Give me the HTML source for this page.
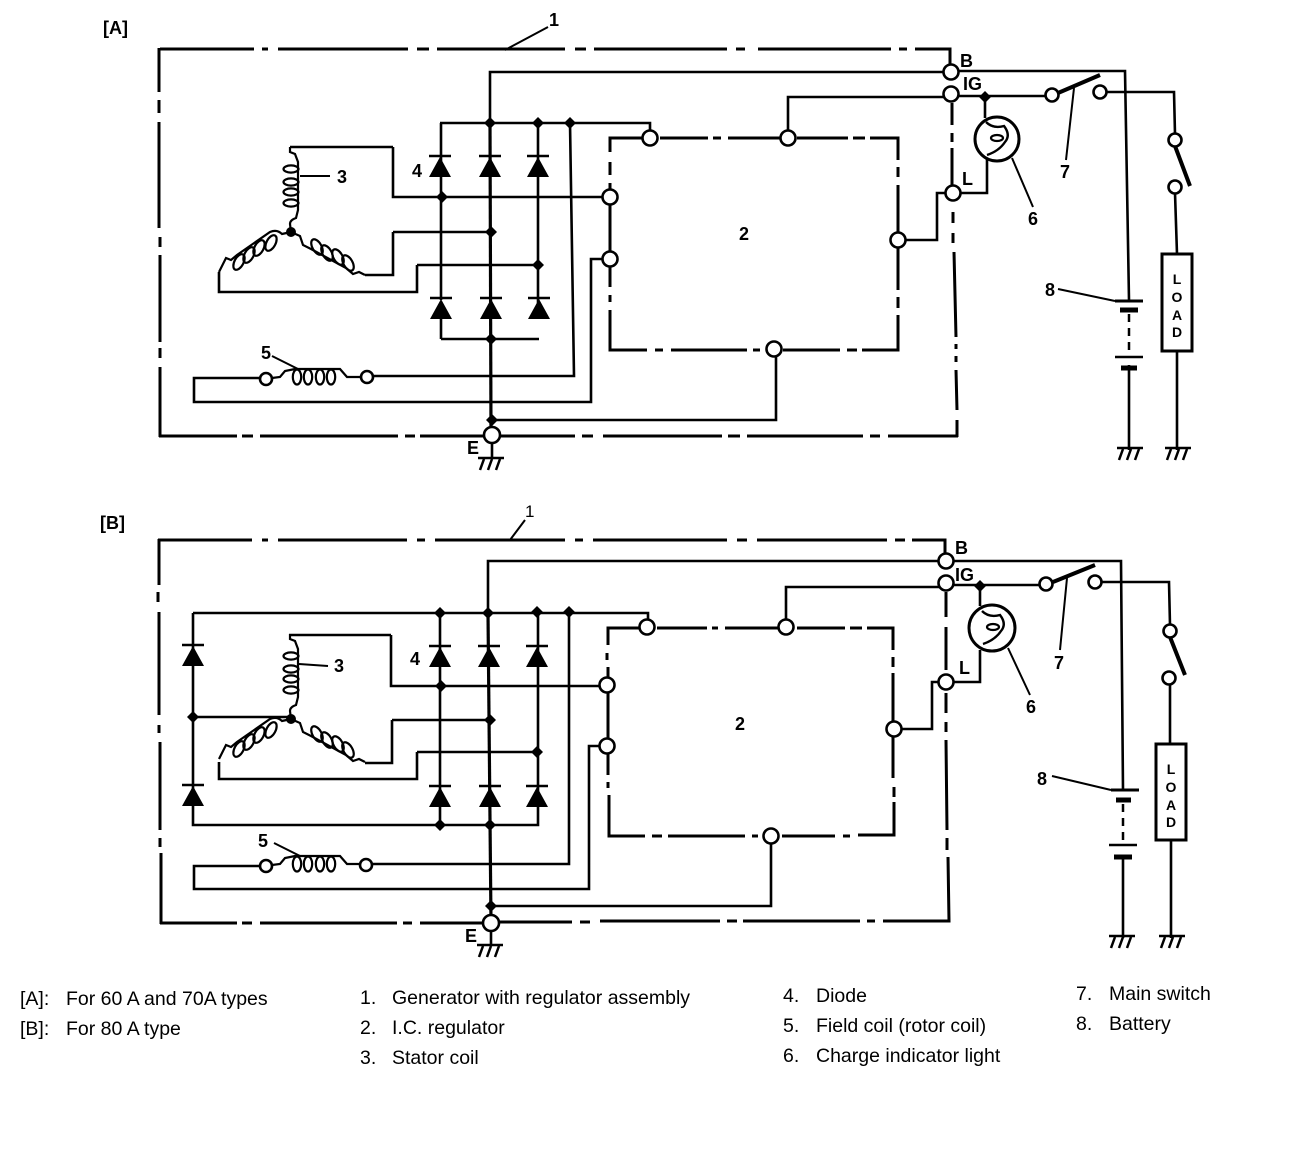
<!DOCTYPE html>
<html><head><meta charset="utf-8"><style>
html,body{margin:0;padding:0;background:#fff}
svg{display:block}
text{font-family:"Liberation Sans",sans-serif;fill:#000}
.b{font-weight:bold;font-size:18px}
.l{font-size:19.5px}
.w{fill:none;stroke:#000;stroke-width:2.6;stroke-linejoin:miter}
.h{fill:none;stroke:#000;stroke-width:3.2}
.t{fill:none;stroke:#000;stroke-width:2}
.d{fill:none;stroke:#000;stroke-width:3}
.c{fill:#fff;stroke:#000;stroke-width:2.6}
</style></head><body>
<svg width="1312" height="1150" viewBox="0 0 1312 1150" xmlns="http://www.w3.org/2000/svg">
<defs>
<g id="di"><path d="M-11,22 L0,2 L11,22 Z" fill="#000"/><path d="M-11,1 H11" stroke="#000" stroke-width="2.5"/></g>
<path id="dot" d="M0,-6 L6,0 L0,6 L-6,0 Z" fill="#000"/>
<g id="gnd" fill="none" stroke="#000" stroke-width="2.5"><path d="M-13,0 H13"/><path d="M-7,1 L-11,12 M1,1 L-3,12 M9,1 L5,12"/></g>
<g id="stator" fill="none" stroke="#000" stroke-width="2.2">
<path d="M0,0 L-1,-8 Q-1,-12 5,-14 L7,-22 V-70 L4,-78 L-1,-80 V-85"/>
<ellipse cx="0" cy="-63" rx="7.5" ry="3.6"/><ellipse cx="0" cy="-50" rx="7.5" ry="3.6"/><ellipse cx="0" cy="-40" rx="7.5" ry="3.6"/><ellipse cx="0" cy="-29" rx="7.5" ry="3.6"/>
<path d="M0,0 L-9,2 Q-14,-3 -21,0 L-54,23 L-60,28 L-65,26 L-70,36 L-72,40"/>
<ellipse cx="-20" cy="11" rx="4.5" ry="8.5" transform="rotate(28 -20 11)"/><ellipse cx="-32" cy="16" rx="4.5" ry="8.5" transform="rotate(28 -32 16)"/><ellipse cx="-42" cy="23" rx="4.5" ry="8.5" transform="rotate(28 -42 23)"/><ellipse cx="-52" cy="30" rx="4.5" ry="8.5" transform="rotate(28 -52 30)"/>
<path d="M0,0 L9,4 L12,13 L20,17 L55,36 L62,42 L68,40 L74,43"/>
<ellipse cx="26" cy="15" rx="4.5" ry="8.5" transform="rotate(-30 26 15)"/><ellipse cx="36" cy="21" rx="4.5" ry="8.5" transform="rotate(-30 36 21)"/><ellipse cx="47" cy="25" rx="4.5" ry="8.5" transform="rotate(-30 47 25)"/><ellipse cx="57" cy="31" rx="4.5" ry="8.5" transform="rotate(-30 57 31)"/>
</g>
<g id="field" fill="none" stroke="#000" stroke-width="2.2">
<path d="M272,378 L280,377 L285,371 L295,369 H340 L347,377 H361"/>
<ellipse cx="297" cy="377" rx="4.2" ry="7.5"/><ellipse cx="308" cy="377" rx="4.2" ry="7.5"/><ellipse cx="320" cy="377" rx="4.2" ry="7.5"/><ellipse cx="331" cy="377" rx="4.2" ry="7.5"/>
</g>
<g id="lamp" fill="none" stroke="#000"><path d="M-11,-17 Q-4,-10 7,-13 Q14,-4 8,3 Q2,12 -10,16" stroke-width="2.4"/><ellipse cx="0" cy="-1" rx="6" ry="3" stroke-width="2.2"/></g>
</defs>

<text x="103" y="34" class="b">[A]</text>
<!-- outer box A -->
<path class="d" d="M160,49 H254 M262,49 H268 M278,49 H408 M417,49 H429 M437,49 H565 M575,49 H586 M594,49 H727 M736,49 H745 M758,49 H891 M899,49 H907 M915,49 H950 V72"/>
<path class="d" d="M159,48 V92 M159,100 V113 M159,122 V228 M160,237 V247 M160,255 V342 M160,348 V358 M160,367 V437"/>
<path class="d" d="M159,436 H237 M242,436 H253 M260,436 H398 M405,436 H415 M420,436 H483 M500,436 H575 M582,436 H593 M603,436 H722 M728,436 H740 M747,436 H863 M870,436 H880 M888,436 H958"/>
<path class="d" d="M952,103 V125 M952,133 V142 M952,148 V193 M953,212 V223 M953,233 V243 M954,252 L956,337 M956,344 V349 M956,356 V362 M956,370 L957,410 M957,420 V437"/>
<!-- regulator A -->
<path class="d" d="M610,152 V138 H650 M660,138 H708 M713,138 H721 M728,138 H788 M797,138 H848 M853,138 H865 M870,138 H898 V160 M898,167 V177 M898,185 V240 V290 M898,297 V308 M898,315 V350 H862 M857,350 H847 M840,350 H783 M760,350 H753 M747,350 H671 M663,350 H655 M647,350 H610 V310 M610,302 V295 M610,287 V259 V197 V183 M610,175 V162"/>
<path class="w" d="M951,72 H490 V123 M440,123 H650 V132 M441,123 V300 M538,123 V319 M441,339 H539 M441,319 V339"/>
<path class="h" d="M490,123 L491,436"/>
<path class="w" d="M570,123 L574,376 H367 M266,378 H194 V402 H591 V259 H610 M393,147 H290 M393,147 V197 H610 M393,232 H491 M393,232 V275 H365 M417,265 H538 M417,265 V292 H219 V272"/>
<path class="w" d="M492,420 H776 V350"/>
<path class="w" d="M788,130 V97 H951 M905,240 H937 V193 H953 H987 V155 M985,118 V97 M951,71 H1125 L1129,300 M951,96 H1045 M1107,92 H1174 L1175,134"/>
<path class="w" d="M1175,193 L1177,254 M1177,351 V450 M1129,365 V450"/>
<path stroke="#000" stroke-width="4" d="M1058,93 L1100,75 M1175,146 L1190,186" fill="none"/>
<use href="#di" x="440" y="155"/><use href="#di" x="490" y="155"/><use href="#di" x="538" y="155"/>
<use href="#di" x="441" y="297"/><use href="#di" x="491" y="297"/><use href="#di" x="539" y="297"/>
<use href="#stator" x="291" y="232"/>
<use href="#field"/>
<use href="#dot" x="490" y="123"/><use href="#dot" x="538" y="123"/><use href="#dot" x="570" y="123"/><use href="#dot" x="442" y="197"/><use href="#dot" x="491" y="232"/><use href="#dot" x="538" y="265"/><use href="#dot" x="491" y="339"/><use href="#dot" x="492" y="420"/><use href="#dot" x="985" y="97"/>
<circle cx="291" cy="232" r="5"/>
<g class="c">
<circle cx="951" cy="72" r="7.5"/><circle cx="951" cy="94" r="7.5"/><circle cx="953" cy="193" r="7.5"/>
<circle cx="650" cy="138" r="7.5"/><circle cx="788" cy="138" r="7.5"/><circle cx="898" cy="240" r="7.5"/><circle cx="774" cy="349" r="7.5"/><circle cx="610" cy="197" r="7.5"/><circle cx="610" cy="259" r="7.5"/>
<circle cx="266" cy="379" r="6"/><circle cx="367" cy="377" r="6"/>
<circle cx="492" cy="435" r="8"/>
<circle cx="1052" cy="95" r="6.5"/><circle cx="1100" cy="92" r="6.5"/><circle cx="1175" cy="140" r="6.5"/><circle cx="1175" cy="187" r="6.5"/>
</g>
<path class="w" d="M492,443 V458"/><use href="#gnd" x="491" y="458"/>
<circle cx="997" cy="139" r="22" fill="#fff" stroke="#000" stroke-width="3"/><use href="#lamp" x="997" y="139"/>
<path d="M1115,301 H1143" stroke="#000" stroke-width="3"/><path d="M1120,310 H1138" stroke="#000" stroke-width="5"/>
<path d="M1129,314 V350" stroke="#000" stroke-width="2.5" stroke-dasharray="8 6"/>
<path d="M1115,357 H1143" stroke="#000" stroke-width="2.5"/><path d="M1121,368 H1137" stroke="#000" stroke-width="5"/>
<rect x="1162" y="254" width="30" height="97" fill="#fff" stroke="#000" stroke-width="3"/>
<text class="b" x="1177" y="284" text-anchor="middle" style="font-size:14px">L</text><text class="b" x="1177" y="302" text-anchor="middle" style="font-size:14px">O</text><text class="b" x="1177" y="320" text-anchor="middle" style="font-size:14px">A</text><text class="b" x="1177" y="337" text-anchor="middle" style="font-size:14px">D</text>
<use href="#gnd" x="1130" y="448"/><use href="#gnd" x="1178" y="448"/>
<path class="t" d="M505,50 L548,27 M300,176 L330,176 M272,356 L300,370 M1012,158 L1033,207 M1074,88 L1066,160 M1058,289 L1115,301"/>
<text class="b" x="549" y="26">1</text><text class="b" x="337" y="183">3</text><text class="b" x="412" y="177">4</text><text class="b" x="261" y="359">5</text><text class="b" x="739" y="240">2</text><text class="b" x="1028" y="225">6</text><text class="b" x="1060" y="178">7</text><text class="b" x="1045" y="296">8</text><text class="b" x="960" y="67">B</text><text class="b" x="963" y="90">IG</text><text class="b" x="962" y="185">L</text><text class="b" x="467" y="454">E</text>

<text x="100" y="529" class="b">[B]</text>
<!-- outer box B -->
<path class="d" d="M158,540 H252 M262,540 H268 M278,540 H407 M417,540 H425 M435,540 H565 M575,540 H583 M593,540 H727 M737,540 H747 M757,540 H887 M895,540 H905 M912,540 H945 V561"/>
<path class="d" d="M159,539 V585 M158,592 V602 M159,612 V715 M159,725 V733 M160,742 V830 M160,838 V847 M161,853 V924"/>
<path class="d" d="M160,923 H237 M242,923 H252 M260,923 H397 M403,923 H412 M420,923 H483 M500,922 H572 M580,922 H590 M600,921 H720 M727,921 H737 M743,921 H860 M867,921 H875 M883,921 H949 L948,857 M947,850 V838 M947,830 L946,740 M946,732 V722 M946,713 V693 M946,670 V627 M946,617 V592"/>
<!-- regulator B -->
<path class="d" d="M608,645 V628 H647 M657,628 H707 M712,628 H718 M725,628 H786 M797,628 H845 M850,628 H862 M867,628 H893 V650 M893,657 V667 M893,673 V729 V778 M894,787 V797 M894,802 V835 H858 M850,836 H843 M835,836 H782 M758,836 H752 M745,836 H668 M662,836 H652 M645,836 H609 V795 M608,788 V782 M608,775 V746 V685 V667 M607,660 V653"/>
<path class="w" d="M946,561 H488 V613 M193,613 H648 V621 M193,613 V825 H538 V613"/>
<path class="h" d="M488,613 L491,923"/>
<path class="w" d="M440,613 V825 M569,612 V864 H366 M266,866 H194 V889 H589 V746 H607 M391,635 H289 M391,635 V686 H607 M392,720 H490 M392,720 V763 H365 M193,717 H291 M417,752 H537 M417,752 V779 H219 V762"/>
<path class="w" d="M491,906 H771 V836"/>
<path class="w" d="M786,620 V587 H946 M901,729 H932 V682 H980 V650 M980,606 V586 M946,561 H1121 L1123,790 M946,585 H1040 M1102,582 H1169 L1170,625"/>
<path class="w" d="M1170,684 V744 M1171,840 V938 M1123,855 V938"/>
<path stroke="#000" stroke-width="4" d="M1053,582 L1095,565 M1170,637 L1185,675" fill="none"/>
<use href="#di" x="193" y="644"/><use href="#di" x="193" y="784"/>
<use href="#di" x="440" y="645"/><use href="#di" x="489" y="645"/><use href="#di" x="537" y="645"/>
<use href="#di" x="440" y="785"/><use href="#di" x="490" y="785"/><use href="#di" x="537" y="785"/>
<use href="#stator" x="291" y="719"/>
<use href="#field" y="487"/>
<use href="#dot" x="440" y="613"/><use href="#dot" x="488" y="613"/><use href="#dot" x="537" y="612"/><use href="#dot" x="569" y="612"/><use href="#dot" x="441" y="686"/><use href="#dot" x="490" y="720"/><use href="#dot" x="537" y="752"/><use href="#dot" x="193" y="717"/><use href="#dot" x="440" y="825"/><use href="#dot" x="490" y="825"/><use href="#dot" x="491" y="906"/><use href="#dot" x="980" y="586"/>
<circle cx="291" cy="719" r="5"/>
<g class="c">
<circle cx="946" cy="561" r="7.5"/><circle cx="946" cy="583" r="7.5"/><circle cx="946" cy="682" r="7.5"/>
<circle cx="647" cy="627" r="7.5"/><circle cx="786" cy="627" r="7.5"/><circle cx="894" cy="729" r="7.5"/><circle cx="771" cy="836" r="7.5"/><circle cx="607" cy="685" r="7.5"/><circle cx="607" cy="746" r="7.5"/>
<circle cx="266" cy="866" r="6"/><circle cx="366" cy="865" r="6"/>
<circle cx="491" cy="923" r="8"/>
<circle cx="1046" cy="584" r="6.5"/><circle cx="1095" cy="582" r="6.5"/><circle cx="1170" cy="631" r="6.5"/><circle cx="1169" cy="678" r="6.5"/>
</g>
<path class="w" d="M491,931 V944"/><use href="#gnd" x="490" y="945"/>
<circle cx="992" cy="628" r="23" fill="#fff" stroke="#000" stroke-width="3"/><use href="#lamp" x="993" y="628"/>
<path d="M1111,790 H1139" stroke="#000" stroke-width="3"/><path d="M1116,800 H1131" stroke="#000" stroke-width="5"/>
<path d="M1123,804 V840" stroke="#000" stroke-width="2.5" stroke-dasharray="8 6"/>
<path d="M1109,845 H1137" stroke="#000" stroke-width="2.5"/><path d="M1114,857 H1132" stroke="#000" stroke-width="5"/>
<rect x="1156" y="744" width="30" height="96" fill="#fff" stroke="#000" stroke-width="3"/>
<text class="b" x="1171" y="774" text-anchor="middle" style="font-size:14px">L</text><text class="b" x="1171" y="792" text-anchor="middle" style="font-size:14px">O</text><text class="b" x="1171" y="810" text-anchor="middle" style="font-size:14px">A</text><text class="b" x="1171" y="827" text-anchor="middle" style="font-size:14px">D</text>
<use href="#gnd" x="1122" y="936"/><use href="#gnd" x="1172" y="936"/>
<path class="t" d="M510,540 L525,520 M299,664 L328,666 M274,843 L300,856 M1008,648 L1030,695 M1067,578 L1060,650 M1052,776 L1111,790"/>
<text x="525" y="517" style="font-size:17px">1</text><text class="b" x="334" y="672">3</text><text class="b" x="410" y="665">4</text><text class="b" x="258" y="847">5</text><text class="b" x="735" y="730">2</text><text class="b" x="1026" y="713">6</text><text class="b" x="1054" y="669">7</text><text class="b" x="1037" y="785">8</text><text class="b" x="955" y="554">B</text><text class="b" x="955" y="581">IG</text><text class="b" x="959" y="674">L</text><text class="b" x="465" y="942">E</text>

<text class="l" x="20" y="1005">[A]:</text><text class="l" x="66" y="1005">For 60 A and 70A types</text>
<text class="l" x="20" y="1035">[B]:</text><text class="l" x="66" y="1035">For 80 A type</text>
<text class="l" x="360" y="1004">1.</text><text class="l" x="392" y="1004">Generator with regulator assembly</text>
<text class="l" x="360" y="1034">2.</text><text class="l" x="392" y="1034">I.C. regulator</text>
<text class="l" x="360" y="1064">3.</text><text class="l" x="392" y="1064">Stator coil</text>
<text class="l" x="783" y="1002">4.</text><text class="l" x="816" y="1002">Diode</text>
<text class="l" x="783" y="1032">5.</text><text class="l" x="816" y="1032">Field coil (rotor coil)</text>
<text class="l" x="783" y="1062">6.</text><text class="l" x="816" y="1062">Charge indicator light</text>
<text class="l" x="1076" y="1000">7.</text><text class="l" x="1109" y="1000">Main switch</text>
<text class="l" x="1076" y="1030">8.</text><text class="l" x="1109" y="1030">Battery</text>
</svg>
</body></html>
